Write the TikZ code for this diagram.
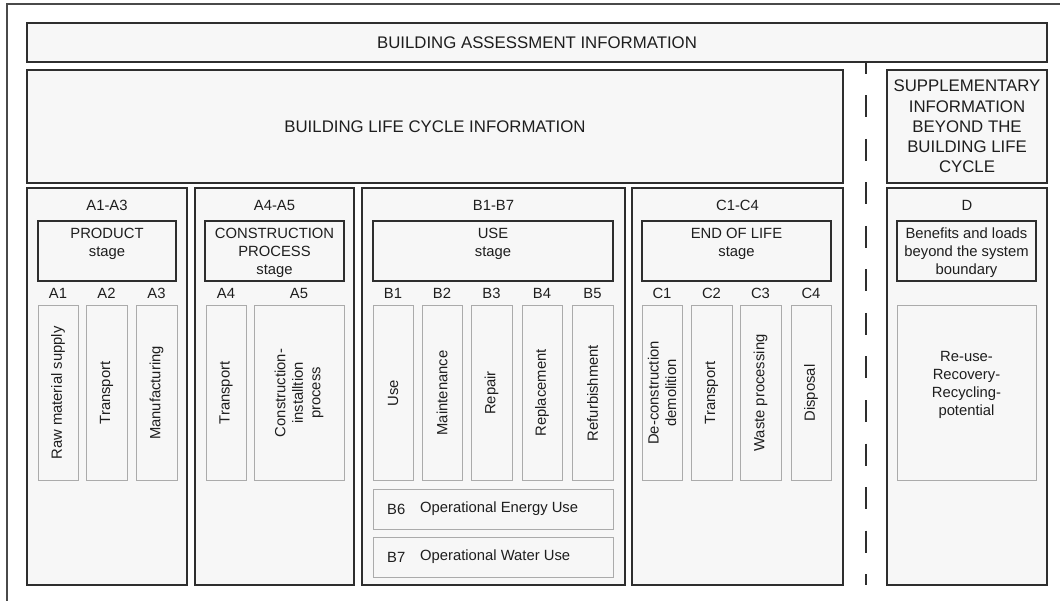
\documentclass[tikz,border=0pt]{standalone}
\usepackage{fontspec}
\setmainfont{Liberation Sans}
\definecolor{ink}{HTML}{1E1E1E}
\definecolor{linedark}{HTML}{2E2E2E}
\definecolor{cellgray}{HTML}{ABABAB}
\definecolor{boxfill}{HTML}{F7F7F7}
\definecolor{framegray}{HTML}{4A4A4A}
\begin{document}
\begin{tikzpicture}[x=1pt,y=-1pt,
  frame/.style={draw=linedark, line width=2pt, fill=boxfill, inner sep=0pt, text=ink},
  cell/.style={draw=cellgray, line width=1pt, fill=boxfill, inner sep=0pt, text=ink,
    align=center, font=\fontsize{14.8}{17.5}\selectfont},
  txt/.style={text=ink, inner sep=0pt, align=center, font=\fontsize{14.8}{18}\selectfont},
  title/.style={text=ink, inner sep=0pt, align=center, font=\fontsize{16.8}{20.2}\selectfont},
  dashline/.style={draw=linedark, line width=2pt, dash pattern=on 22pt off 21.5pt, dash phase=10pt},
  outer/.style={draw=framegray, line width=1.5pt}]
\useasboundingbox (0,0) rectangle (1060,601);
\fill[white] (0,0) rectangle (1060,601);

% outer frame (only the top and left edges fall inside the page)
\coordinate (f1) at (7,601);
\coordinate (f2) at (7,4);
\coordinate (f3) at (1060,4);
\draw[outer] (f1) -- (f2) -- (f3);

% header rows
\node[frame, title, minimum width=1020pt, minimum height=39pt] (assess) at (537,42.5)
  {BUILDING ASSESSMENT INFORMATION};
\node[frame, title, minimum width=816pt, minimum height=113pt] (life) at (435,126.5)
  {BUILDING LIFE CYCLE INFORMATION};
\node[frame, title, minimum width=160pt, minimum height=113pt] (supp) at (967,126.5)
  {SUPPLEMENTARY\\INFORMATION\\BEYOND THE\\BUILDING LIFE\\CYCLE};

% boundary between life cycle and supplementary information
\coordinate (dtop) at (866,62);
\coordinate (dbot) at (866,585);
\draw[dashline] (dtop) -- (dbot);

% module columns
\node[frame, minimum width=160pt, minimum height=397pt] (modA) at (107,386.5) {};
\node[frame, minimum width=159pt, minimum height=397pt] (modAC) at (274.5,386.5) {};
\node[frame, minimum width=263pt, minimum height=397pt] (modB) at (493.5,386.5) {};
\node[frame, minimum width=211pt, minimum height=397pt] (modC) at (737.5,386.5) {};
\node[frame, minimum width=160pt, minimum height=397pt] (modD) at (967,386.5) {};

\node[txt] (labA) at (107,205) {A1-A3};
\node[txt] (labAC) at (274.5,205) {A4-A5};
\node[txt] (labB) at (493.5,205) {B1-B7};
\node[txt] (labC) at (737.5,205) {C1-C4};
\node[txt] (labD) at (967,205) {D};

% stage boxes
\node[frame, minimum width=138pt, minimum height=60pt] (stA) at (107,251) {};
\node[frame, minimum width=139pt, minimum height=60pt] (stAC) at (274.5,251) {};
\node[frame, minimum width=240pt, minimum height=60pt] (stB) at (493,251) {};
\node[frame, minimum width=189pt, minimum height=60pt] (stC) at (736.5,251) {};
\node[frame, minimum width=139pt, minimum height=60pt] (stD) at (966.5,251) {};

\node[txt, anchor=north] (tA) at (107,227.5) {PRODUCT\\stage};
\node[txt, anchor=north] (tAC) at (274.5,227.5) {CONSTRUCTION\\PROCESS\\stage};
\node[txt, anchor=north] (tB) at (493,227.5) {USE\\stage};
\node[txt, anchor=north] (tC) at (736.5,227.5) {END OF LIFE\\stage};
\node[txt, anchor=north] (tD) at (966.5,227.5) {Benefits and loads\\beyond the system\\boundary};

% module codes
\node[txt] (cA1) at (58,293) {A1};
\node[txt] (cA2) at (106.5,293) {A2};
\node[txt] (cA3) at (156.5,293) {A3};
\node[txt] (cA4) at (226,293) {A4};
\node[txt] (cA5) at (299,293) {A5};
\node[txt] (cB1) at (393,293) {B1};
\node[txt] (cB2) at (442,293) {B2};
\node[txt] (cB3) at (491.5,293) {B3};
\node[txt] (cB4) at (542,293) {B4};
\node[txt] (cB5) at (592.5,293) {B5};
\node[txt] (cC1) at (662,293) {C1};
\node[txt] (cC2) at (711.5,293) {C2};
\node[txt] (cC3) at (760.5,293) {C3};
\node[txt] (cC4) at (811,293) {C4};

% module cells (text reads bottom to top)
\node[cell, rotate=90, minimum width=174pt, minimum height=40pt] (a1) at (58,393) {Raw material supply};
\node[cell, rotate=90, minimum width=174pt, minimum height=41pt] (a2) at (106.5,393) {Transport};
\node[cell, rotate=90, minimum width=174pt, minimum height=41pt] (a3) at (156.5,393) {Manufacturing};
\node[cell, rotate=90, minimum width=174pt, minimum height=40pt] (a4) at (226,393) {Transport};
\node[cell, rotate=90, minimum width=174pt, minimum height=90pt] (a5) at (299,393) {Construction-\\installtion\\process};
\node[cell, rotate=90, minimum width=174pt, minimum height=40pt] (b1) at (393,393) {Use};
\node[cell, rotate=90, minimum width=174pt, minimum height=40pt] (b2) at (442,393) {Maintenance};
\node[cell, rotate=90, minimum width=174pt, minimum height=41pt] (b3) at (491.5,393) {Repair};
\node[cell, rotate=90, minimum width=174pt, minimum height=40pt] (b4) at (542,393) {Replacement};
\node[cell, rotate=90, minimum width=174pt, minimum height=41pt] (b5) at (592.5,393) {Refurbishment};
\node[cell, rotate=90, minimum width=174pt, minimum height=40pt] (c1) at (662,393) {De-construction\\demolition};
\node[cell, rotate=90, minimum width=174pt, minimum height=41pt] (c2) at (711.5,393) {Transport};
\node[cell, rotate=90, minimum width=174pt, minimum height=41pt] (c3) at (760.5,393) {Waste processing};
\node[cell, rotate=90, minimum width=174pt, minimum height=40pt] (c4) at (811,393) {Disposal};

\node[cell, minimum width=139pt, minimum height=174pt] (d1) at (966.5,393) {};
\node[txt] (d1t) at (966.5,385) {Re-use-\\Recovery-\\Recycling-\\potential};

% operational use rows
\node[cell, minimum width=240pt, minimum height=40pt] (b6) at (493,509) {};
\node[cell, minimum width=240pt, minimum height=40pt] (b7) at (493,557) {};
\node[txt, anchor=west] (b6c) at (387,509) {B6};
\node[txt, anchor=west] (b6t) at (420,509) {Operational Energy Use};
\node[txt, anchor=west] (b7c) at (387,557) {B7};
\node[txt, anchor=west] (b7t) at (420,557) {Operational Water Use};
\end{tikzpicture}
\end{document}
